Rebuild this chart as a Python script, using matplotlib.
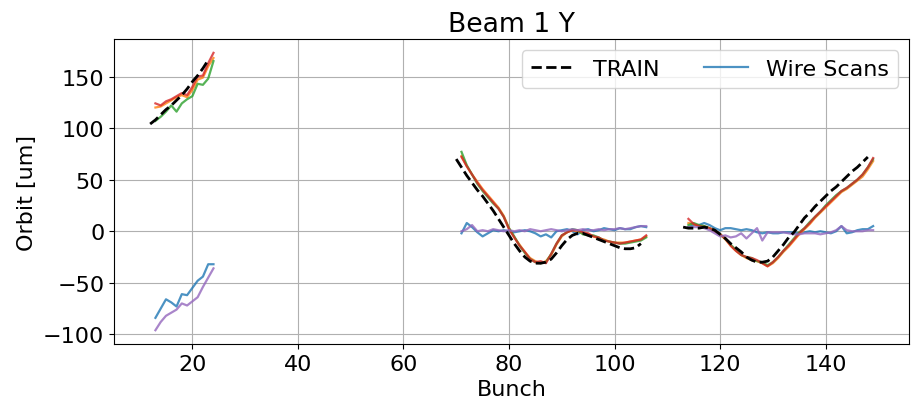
import matplotlib
matplotlib.use("Agg")
import matplotlib.pyplot as plt
import numpy as np

# ---- data ----
train_x1 = list(range(12, 24))
train_y1 = [104, 108, 113, 118, 122, 127, 132, 138, 145, 151, 158, 166]
train_x2 = list(range(70, 106))
train_y2 = [70, 62, 54, 47, 40, 34, 27, 20, 12, 4, -4, -12, -19, -25, -29, -31, -31, -30,
            -27, -21, -14, -8, -4, -2, -2, -4, -6, -8, -10, -12, -14, -16, -17, -17, -16, -12]
train_x3 = list(range(113, 149))
train_y3 = [4, 3, 3, 3, 4, 3, 1, -3, -7, -12, -16, -20, -25, -28, -30, -30, -29, -25,
            -19, -13, -6, -1, 6, 13, 18, 24, 29, 34, 39, 43, 48, 53, 58, 62, 67, 72]

wire_x1 = list(range(13, 25))
wire_x2 = list(range(71, 107))
wire_x3 = list(range(114, 150))

# series C0 (blue)
blue_1 = [-84, -75, -66, -69, -73, -61, -62, -55, -48, -44, -32, -32]
blue_2 = [-2, 8, 4, -1, -5, -2, 1, 0, 1, 0, -1, 0, 1, 0, -2, -5, -3, -6, 0, 1,
          2, 0, -3, 1, 2, 0, 1, 3, 2, 1, 3, 2, 2, 4, 5, 4]
blue_3 = [4, 6, 6, 8, 6, 3, 1, 3, 3, 2, 1, 2, 1, -1, -2, -1, -2, -2, -1, -1,
          -1, -2, -1, 0, -1, 0, -1, -2, 0, 5, -2, -1, 1, 2, 2, 5]
# series C1 (orange)
orange_1 = [120, 121, 124, 127, 130, 132, 130, 137, 147, 149, 160, 168]
orange_2 = [73, 63, 55, 48, 41, 35, 29, 23, 15, 3, -6, -13, -20, -26, -29, -31, -29, -23,
            -13, -5, -1, 1, 0, -2, -3, -5, -7, -8, -10, -11, -11, -11, -10, -9, -8, -5]
orange_3 = [8, 7, 5, 5, 3, 1, -3, -8, -14, -19, -23, -26, -28, -29, -31, -34, -31, -26,
            -20, -15, -9, -3, 2, 7, 13, 18, 23, 28, 33, 38, 41, 45, 49, 53, 60, 68]
# series C2 (green)
green_1 = [107, 111, 116, 122, 116, 124, 128, 131, 143, 142, 148, 165]
green_2 = [77, 64, 55, 46, 39, 33, 27, 22, 14, 3, -5, -14, -21, -27, -30, -31, -30, -22,
           -12, -4, -1, 2, 1, -3, -4, -4, -6, -9, -10, -11, -12, -12, -11, -10, -9, -6]
green_3 = [6, 8, 6, 5, 3, 0, -3, -7, -13, -18, -23, -25, -26, -29, -30, -33, -30, -25,
           -19, -13, -7, -1, 3, 9, 14, 19, 25, 30, 35, 39, 42, 46, 50, 55, 62, 70]
# series C3 (red)
red_1 = [124, 122, 126, 128, 131, 134, 132, 140, 150, 151, 163, 173]
red_2 = [72, 63, 55, 47, 40, 34, 28, 22, 14, 2, -6, -14, -20, -27, -30, -29, -31, -22,
         -12, -4, -1, 1, 1, -1, -2, -5, -6, -9, -10, -11, -12, -11, -10, -9, -8, -4]
red_3 = [12, 7, 5, 4, 3, 0, -3, -7, -14, -19, -23, -25, -26, -28, -31, -34, -30, -25,
         -19, -14, -8, -2, 3, 8, 14, 19, 24, 29, 34, 39, 42, 46, 50, 55, 62, 71]
# series C4 (purple)
purple_1 = [-96, -88, -82, -79, -76, -70, -72, -68, -64, -54, -45, -36]
purple_2 = [0, 2, 6, 0, 1, 0, 2, 1, 0, 1, 0, 1, 0, 2, 1, 0, 1, 2, 1, 0,
            1, 2, 1, 2, 1, 1, 2, 1, 2, 2, 3, 2, 3, 4, 5, 5]
purple_3 = [4, 4, 4, 3, 1, -2, -5, -4, -6, -5, -2, -7, -2, 3, -9, -1, -1, -1,
            -1, -2, -3, -3, -2, -2, -2, -3, -2, -1, 1, 5, 1, 0, 0, 0, 1, 1]

wire_series = [
    (blue_1, blue_2, blue_3, "C0"),
    (orange_1, orange_2, orange_3, "C1"),
    (green_1, green_2, green_3, "C2"),
    (red_1, red_2, red_3, "C3"),
    (purple_1, purple_2, purple_3, "C4"),
]

plt.rcParams["font.size"] = 16

fig = plt.figure(figsize=(9.12, 4.06), dpi=100)
ax = fig.add_axes([0.125, 0.150, 0.872, 0.7515])

ax.plot(train_x1, train_y1, "k--", lw=2, label="TRAIN", zorder=3)
ax.plot(train_x2, train_y2, "k--", lw=2, zorder=3)
ax.plot(train_x3, train_y3, "k--", lw=2, zorder=3)

first = True
for s1, s2, s3, c in wire_series:
    for xs, ys in ((wire_x1, s1), (wire_x2, s2), (wire_x3, s3)):
        ax.plot(xs, ys, color=c, lw=1.6, alpha=0.8,
                label="Wire Scans" if first else None, zorder=2)
        first = False

ax.grid(True)
ax.set_title("Beam 1 Y", fontsize=19.2)
ax.set_xlabel("Bunch")
ax.set_ylabel("Orbit [um]")
ax.set_yticks([-100, -50, 0, 50, 100, 150])
ax.legend(ncol=2, loc="upper right")

fig.savefig("out.png", dpi=100)
